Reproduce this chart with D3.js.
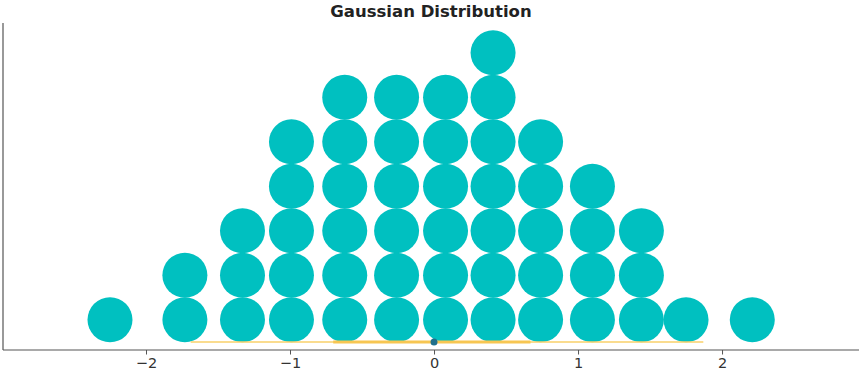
<!DOCTYPE html>
<html>
<head>
<meta charset="utf-8">
<script src="https://cdn.jsdelivr.net/npm/d3@7"></script>
<style>
  html, body { margin: 0; padding: 0; background: #fff; }
  svg { display: block; font-family: "DejaVu Sans", sans-serif; }
</style>
</head>
<body>
<svg id="chart" width="862" height="375"></svg>
<script>
// Bin centers (x value) and number of stacked dots in each bin
const binCenters = [-2.25, -1.73, -1.33, -0.99, -0.62, -0.26, 0.08, 0.41, 0.74, 1.10, 1.44, 1.75, 2.21];
const binCounts  = [1, 2, 3, 5, 6, 6, 6, 7, 5, 4, 3, 1, 1];
// Summary line under the dots: whiskers, quartiles, median
const whiskers = [-1.69, 1.87];
const quartiles = [-0.70, 0.67];
const median = 0;
const xTicks = [-2, -1, 0, 1, 2];
const title = "Gaussian Distribution";

const svg = d3.select("#chart");
const mLeft = 3, mRight = 859, mTop = 23, mBottom = 350;

const x = d3.scaleLinear().domain([-2.993, 2.951]).range([mLeft, mRight]);
const y = d3.scaleLinear().domain([-0.18, 7.17]).range([mBottom, mTop]);
const r = 22.5;

// dots
const dots = [];
binCenters.forEach((c, i) => {
  for (let k = 0; k < binCounts[i]; k++) dots.push({ x: c, k });
});
svg.append("g").selectAll("circle").data(dots).join("circle")
  .attr("cx", d => x(d.x))
  .attr("cy", d => y(d.k + 0.5))
  .attr("r", r)
  .attr("fill", "#00c0c0");

// summary lines
const ly = y(0);
svg.append("line")
  .attr("x1", x(whiskers[0])).attr("x2", x(whiskers[1]))
  .attr("y1", ly).attr("y2", ly)
  .attr("stroke", "#f9d06a").attr("stroke-width", 1.6);
svg.append("line")
  .attr("x1", x(quartiles[0])).attr("x2", x(quartiles[1]))
  .attr("y1", ly).attr("y2", ly)
  .attr("stroke", "#f7c652").attr("stroke-width", 3);
svg.append("circle")
  .attr("cx", x(median)).attr("cy", ly).attr("r", 3.5)
  .attr("fill", "#1f6f8b");

// axes
const xAxis = d3.axisBottom(x).tickValues(xTicks).tickSize(4.5).tickPadding(3)
  .tickFormat(d => d < 0 ? "\u2212" + Math.abs(d) : String(d));
const gx = svg.append("g").attr("transform", `translate(0,${mBottom})`).call(xAxis);
gx.attr("font-size", null).attr("font-family", null);
gx.select(".domain").attr("stroke", "#555").attr("stroke-width", 1.2).attr("d", `M${mLeft},0H${mRight}`);
gx.selectAll(".tick line").attr("stroke", "#555").attr("stroke-width", 1);
gx.selectAll(".tick text")
  .attr("fill", "#333")
  .style("font-size", "14.5px")
  .style("font-family", "'DejaVu Sans', sans-serif");

svg.append("line")
  .attr("x1", mLeft).attr("x2", mLeft).attr("y1", mTop).attr("y2", mBottom)
  .attr("stroke", "#555").attr("stroke-width", 1.2);

// title
svg.append("text")
  .attr("x", 431).attr("y", 17)
  .attr("text-anchor", "middle")
  .style("font-size", "16.5px").style("font-weight", "bold").attr("fill", "#222")
  .text(title);
</script>
</body>
</html>
